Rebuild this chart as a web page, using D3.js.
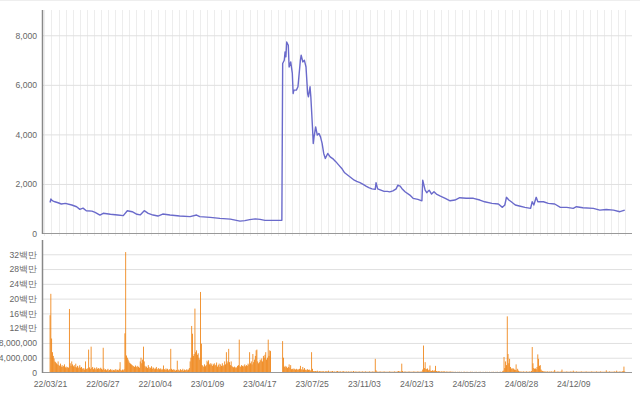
<!DOCTYPE html>
<html lang="ko">
<head>
<meta charset="utf-8">
<title>주가 · 거래량</title>
<script src="https://cdn.jsdelivr.net/npm/d3@7/dist/d3.min.js"></script>
<style>
  body { margin: 0; background: #fff; }
  svg { display: block; font-family: Roboto, "Noto Sans CJK KR", sans-serif; }
  .tick text { fill: #666; font-size: 8.6px; }
</style>
</head>
<body>
<svg id="chart" width="640" height="399"></svg>
<script>
// x labels (one every 65 trading days)
var tickLabels = ["22/03/21", "22/06/27", "22/10/04", "23/01/09", "23/04/17", "23/07/25",
                  "23/11/03", "24/02/13", "24/05/23", "24/08/28", "24/12/09"];
var tickDays = [0, 65, 130, 195, 260, 325, 390, 455, 520, 585, 650];

// closing price (trading day index -> won)
var priceDay = [0,1,2,4,6,10,14,19,27,33,37,41,45,52,56,62,66,75,84,91,96,102,108,112,117,122,128,134,140,149,
  161,174,182,186,199,211,224,236,242,248,255,261,267,275,288,289,291,292,293,294,296,297,299,301,302,303,306,308,
  311,312,314,316,318,320,321,323,324,326,327,328,330,332,334,336,338,340,342,345,348,352,355,359,363,366,370,374,
  378,381,385,389,393,396,400,404,405,407,411,415,419,422,426,430,432,435,437,441,447,451,457,462,463,466,468,471,
  474,477,480,485,491,497,503,509,517,526,534,540,549,557,562,565,567,570,573,578,583,590,597,599,601,604,606,613,
  619,627,634,642,650,654,662,675,683,691,700,708,714];
var priceValue = [1250,1390,1350,1310,1280,1240,1190,1215,1150,1080,975,1025,920,905,855,745,815,775,745,720,920,880,
  775,750,920,815,745,705,785,745,705,680,745,680,650,610,580,500,520,560,590,570,530,530,530,6860,6990,7330,7130,7730,
  7600,6720,6925,6460,5650,5785,5785,5920,6990,7195,6925,6990,6720,5650,5515,5920,5515,4305,3635,3900,4305,3970,4040,
  3900,3635,3230,3030,3230,3095,3000,2900,2750,2600,2450,2350,2250,2150,2100,2050,1980,1900,1850,1800,1780,2050,1800,
  1750,1700,1700,1680,1720,1800,1950,1915,1820,1685,1550,1420,1375,1320,2155,1750,1645,1750,1590,1685,1590,1510,1420,
  1320,1350,1445,1420,1420,1350,1280,1215,1190,1055,1150,1460,1350,1280,1150,1110,1055,1015,1280,1150,1460,1280,1280,
  1215,1190,1055,1055,1015,1080,1040,1015,945,970,945,880,945];

// daily volume, in units of 100,000 shares (index = trading day)
var volume = [
  155,213,92,55,45,38,30,28,25,22,  30,20,18,24,16,20,15,18,22,14,  16,12,15,13,172,25,18,30,22,17,
  20,15,24,14,18,12,16,20,13,15,  11,9,12,8,30,10,9,12,62,14,  10,70,12,15,9,13,11,8,14,10,
  12,9,11,13,10,8,67,11,7,9,  6,8,10,5,7,9,6,8,5,7,  6,9,5,8,7,6,10,28,7,5,
  8,6,9,106,326,46,40,35,30,26,  24,22,20,18,17,15,19,16,14,18,  15,13,30,40,25,35,70,30,18,14,
  16,12,20,15,11,13,17,10,14,12,  9,11,15,10,8,12,9,11,7,10,  8,19,9,7,11,8,10,6,9,8,
  64,10,7,9,6,8,5,7,32,6,  8,5,9,6,7,10,5,8,6,7,  9,6,8,12,30,40,126,105,45,50,
  173,55,60,48,52,40,35,218,78,20,  18,15,22,17,20,32,28,33,22,25,  20,24,18,22,25,19,21,27,16,20,
  24,15,22,18,25,17,20,30,22,55,  25,30,64,28,20,30,18,15,14,16,  12,15,13,18,20,89,17,15,20,18,
  16,19,22,17,20,18,24,21,55,25,  30,22,50,28,35,45,60,62,30,25,  28,35,32,38,30,45,40,48,55,35,
  40,89,45,60,58,0,0,0,0,0,  0,0,0,0,0,0,0,0,0,85,  40,15,18,14,16,12,15,22,13,20,
  9,10,8,11,9,8,10,7,9,8,  10,18,9,7,15,8,12,7,8,6,  9,7,8,6,5,55,10,4,3,4,
  4,3,5,3,2,4,3,3,2,4,  3,2,3,4,2,3,5,2,3,2,  3,4,2,3,2,2,3,4,2,3,
  2,3,2,2,4,3,2,2,3,2,  2,3,2,2,3,2,2,4,2,2,  3,2,2,2,3,2,2,2,3,2,
  2,2,3,2,2,2,2,3,2,2,  2,3,2,2,37,6,3,2,2,2,  3,2,2,2,2,3,2,2,2,2,
  2,2,3,2,2,2,2,2,3,2,  2,2,3,4,3,2,3,24,4,2,  2,3,2,2,2,2,3,2,2,2,
  2,2,3,2,2,2,2,3,2,2,  2,3,2,8,73,12,28,10,9,11,  6,8,19,5,4,6,5,4,6,18,
  4,3,3,4,3,2,3,3,2,3,  3,2,2,3,2,2,2,3,2,2,  2,2,1,2,2,1,2,1,2,2,
  1,2,1,1,2,2,1,2,1,2,  1,1,2,2,1,2,1,1,2,1,  2,1,1,2,1,2,1,1,2,1,
  1,2,1,2,1,1,2,1,1,2,  1,2,1,1,2,1,2,1,1,2,  2,1,3,5,42,12,30,20,152,50,
  25,37,15,10,12,9,11,8,7,22,  6,10,5,3,2,3,2,2,3,2,  2,2,3,2,2,2,3,2,4,69,
  25,12,10,11,9,15,49,37,18,20,  8,5,4,3,3,2,3,2,3,2,  2,3,2,3,2,2,3,7,2,2,
  2,3,2,2,2,3,8,2,2,2,  2,2,3,2,2,2,2,3,2,2,  5,2,2,2,3,2,2,2,2,2,
  3,2,2,2,2,2,3,2,2,2,  2,2,2,3,2,2,2,2,2,3,  2,2,2,2,3,2,2,2,2,2,
  2,6,2,2,2,3,2,2,2,2,  2,3,2,2,5,2,2,2,3,2,  2,3,4,16,3
];

var priceTicks = [0, 2000, 4000, 6000, 8000];
var volumeTicks = [0, 4e6, 8e6, 12e6, 16e6, 20e6, 24e6, 28e6, 32e6];

var svg = d3.select("#chart");
var left = 42, right = 632;

var x = d3.scaleLinear().domain([-10, 723]).range([left, right]);
var yP = d3.scaleLinear().domain([0, 9000]).range([233.5, 10.5]);
var yV = d3.scaleLinear().domain([0, 36e6]).range([372.5, 239.5]);

svg.append("line").attr("x1", 0).attr("x2", 640).attr("y1", 0.5).attr("y2", 0.5)
  .attr("stroke", "#eeeeee");

// vertical grid, top panel only
var gridDays = d3.range(-7, 723, 8.8);
svg.append("g").selectAll("line").data(gridDays).join("line")
  .attr("x1", d => Math.round(x(d)) + 0.5).attr("x2", d => Math.round(x(d)) + 0.5)
  .attr("y1", 10).attr("y2", 236)
  .attr("stroke", "#ededed");

// price axis
var gP = svg.append("g").attr("transform", "translate(" + left + ",0)")
  .call(d3.axisLeft(yP).tickValues(priceTicks).tickSize(-(right - left)).tickPadding(5)
    .tickFormat(d3.format(",")));
gP.select(".domain").remove();
gP.selectAll(".tick line").attr("stroke", d => d === 0 ? "none" : "#e0e0e0");

var gV = svg.append("g").attr("transform", "translate(" + left + ",0)")
  .call(d3.axisLeft(yV).tickValues(volumeTicks).tickSize(-(right - left)).tickPadding(5)
    .tickFormat(v => v >= 12e6 ? (v / 1e6) + "백만" : d3.format(",")(v)));
gV.select(".domain").remove();
gV.selectAll(".tick line").attr("stroke", d => d === 0 ? "none" : "#e0e0e0");

// volume bars
var step = x(1) - x(0);
svg.append("g").selectAll("rect").data(volume).join("rect")
  .attr("x", (d, i) => x(i) - step / 2)
  .attr("width", step)
  .attr("y", d => yV(d * 1e5))
  .attr("height", d => yV(0) - yV(d * 1e5))
  .attr("fill", "#ee7c06");

// price line
var line = d3.line().x(d => x(d[0])).y(d => yP(d[1]));
svg.append("path")
  .datum(priceDay.map((d, i) => [d, priceValue[i]]))
  .attr("d", line)
  .attr("fill", "none")
  .attr("stroke", "#6a6acb")
  .attr("stroke-width", 1.4)
  .attr("stroke-linejoin", "round");

// axis frames
var frame = svg.append("g").attr("fill", "none");
frame.append("line").attr("x1", left).attr("x2", right).attr("y1", 233.5).attr("y2", 233.5).attr("stroke", "#999");
frame.append("line").attr("x1", left + 0.5).attr("x2", left + 0.5).attr("y1", 10).attr("y2", 234).attr("stroke", "#888").attr("stroke-width", 1.5);
frame.append("line").attr("x1", left).attr("x2", right).attr("y1", 372.5).attr("y2", 372.5).attr("stroke", "#999");
frame.append("line").attr("x1", left + 0.5).attr("x2", left + 0.5).attr("y1", 240).attr("y2", 373).attr("stroke", "#888").attr("stroke-width", 1.5);

// x labels
svg.append("g").attr("transform", "translate(0,373)")
  .call(d3.axisBottom(x).tickValues(tickDays).tickSize(0).tickPadding(8)
    .tickFormat((d, i) => tickLabels[i]))
  .select(".domain").remove();
</script>
</body>
</html>
